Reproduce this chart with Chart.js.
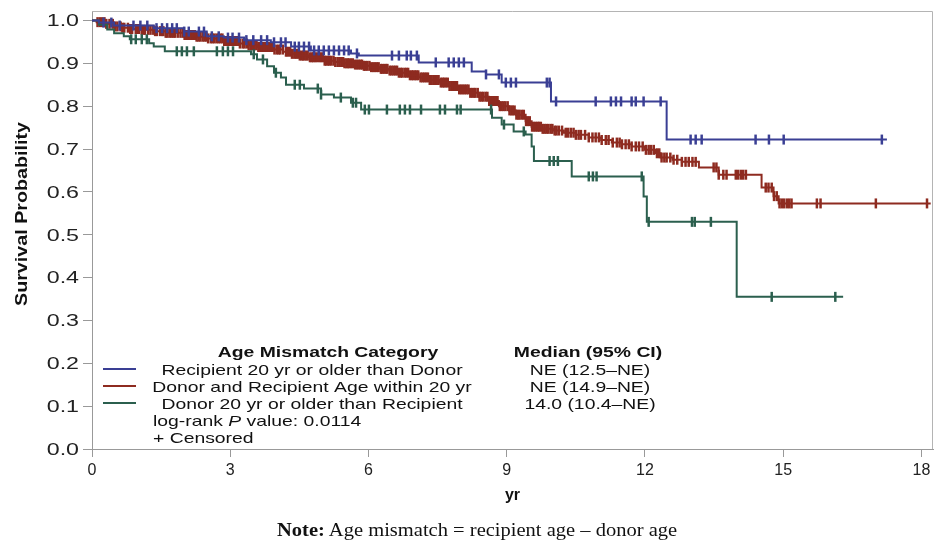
<!DOCTYPE html>
<html>
<head>
<meta charset="utf-8">
<script src="https://cdn.jsdelivr.net/npm/chart.js@4.4.0/dist/chart.umd.min.js"></script>
<style>
html,body{margin:0;padding:0;background:#fff;}
#wrap{position:relative;width:935px;height:544px;overflow:hidden;}
#c{position:absolute;left:0;top:0;}
#note{position:absolute;left:277px;top:519px;white-space:nowrap;font-family:"Liberation Serif","Times New Roman",serif;font-size:18px;color:#111;line-height:22px;transform:scaleX(1.14);transform-origin:0 0;}
</style>
</head>
<body>
<div id="wrap">
<canvas id="c" width="935" height="544"></canvas>
<div id="note"><b>Note:</b> Age mismatch = recipient age – donor age</div>
</div>
<script>
// ---------- data ----------
const xTicks = [0, 3, 6, 9, 12, 15, 18];
const yTicks = [0.0, 0.1, 0.2, 0.3, 0.4, 0.5, 0.6, 0.7, 0.8, 0.9, 1.0];
const xTitle = "yr";
const yTitle = "Survival Probability";
const legendHeader = "Age Mismatch Category";
const medianHeader = "Median (95% CI)";
const seriesNames = [
  "Recipient 20 yr or older than Donor",
  "Donor and Recipient Age within 20 yr",
  "Donor 20 yr or older than Recipient"
];
const medians = ["NE (12.5\u2013NE)", "NE (14.9\u2013NE)", "14.0 (10.4\u2013NE)"];
const pValueText = "0.0114";

// Recipient 20 yr or older than Donor (blue)
const blueTimes = [0, 0.15, 0.48, 1.34, 2.00, 2.49, 2.86, 3.30, 3.88, 4.32, 4.75, 5.62, 5.79, 7.09, 8.24, 8.55, 8.89, 9.96, 12.47, 17.25];
const blueSurv  = [1.0, 0.995, 0.988, 0.982, 0.974, 0.963, 0.960, 0.954, 0.949, 0.939, 0.930, 0.923, 0.918, 0.902, 0.881, 0.874, 0.855, 0.811, 0.722, 0.722];
const blueCensor = [0.25, 0.42, 0.60, 0.90, 1.05, 1.20, 1.40, 1.52, 1.63, 1.74, 1.84, 2.00, 2.10, 2.32, 2.43, 2.60, 2.75, 2.95, 3.05, 3.19, 3.35, 3.50, 3.67, 3.80, 3.95, 4.10, 4.20, 4.40, 4.49, 4.60, 4.71, 4.82, 4.92, 5.03, 5.14, 5.25, 5.36, 5.47, 5.57, 5.75, 6.51, 6.66, 6.83, 6.92, 7.05, 7.46, 7.74, 7.85, 7.96, 8.07, 8.55, 8.83, 8.98, 9.09, 9.20, 9.87, 9.93, 10.07, 10.93, 11.26, 11.37, 11.48, 11.71, 11.80, 11.97, 12.34, 12.99, 13.10, 13.23, 14.40, 14.69, 15.01, 17.14];

// Donor and Recipient Age within 20 yr (red)
const redTimes = [0, 0.10, 0.30, 0.48, 0.65, 0.80, 1.05, 1.34, 1.60, 2.00, 2.25, 2.49, 2.86, 3.19, 3.40, 3.58, 3.95, 4.15, 4.32, 4.50, 4.71, 5.03, 5.25, 5.47, 5.70, 5.90, 6.05, 6.23, 6.45, 6.66, 6.88, 7.09, 7.30, 7.53, 7.75, 7.96, 8.18, 8.39, 8.61, 8.83, 9.05, 9.20, 9.41, 9.54, 9.75, 10.00, 10.24, 10.50, 10.78, 11.05, 11.28, 11.50, 11.71, 12.00, 12.23, 12.34, 12.60, 12.80, 13.17, 13.60, 14.53, 14.79, 14.90, 18.20];
const redSurv  = [1.0, 0.996, 0.992, 0.986, 0.983, 0.980, 0.978, 0.975, 0.971, 0.966, 0.962, 0.958, 0.952, 0.946, 0.942, 0.938, 0.932, 0.927, 0.922, 0.918, 0.914, 0.906, 0.903, 0.900, 0.897, 0.894, 0.891, 0.887, 0.883, 0.878, 0.872, 0.867, 0.861, 0.855, 0.847, 0.839, 0.831, 0.822, 0.812, 0.800, 0.790, 0.780, 0.765, 0.752, 0.747, 0.743, 0.738, 0.733, 0.727, 0.721, 0.715, 0.711, 0.706, 0.698, 0.690, 0.680, 0.675, 0.670, 0.657, 0.640, 0.610, 0.590, 0.573, 0.573];
const redCensor = [0.12, 0.17, 0.22, 0.27, 0.31, 0.38, 0.45, 0.50, 0.55, 0.62, 0.66, 0.70, 0.78, 0.83, 0.87, 0.95, 0.99, 1.02, 1.08, 1.12, 1.15, 1.22, 1.27, 1.33, 1.37, 1.41, 1.48, 1.52, 1.55, 1.60, 1.64, 1.69, 1.73, 1.77, 1.80, 1.86, 1.92, 1.97, 2.01, 2.04, 2.08, 2.12, 2.16, 2.19, 2.23, 2.27, 2.31, 2.35, 2.40, 2.44, 2.48, 2.52, 2.58, 2.62, 2.66, 2.71, 2.75, 2.79, 2.83, 2.87, 2.91, 2.95, 2.98, 3.02, 3.06, 3.10, 3.14, 3.18, 3.21, 3.27, 3.31, 3.36, 3.40, 3.45, 3.49, 3.53, 3.57, 3.61, 3.65, 3.69, 3.73, 3.76, 3.80, 3.84, 3.88, 3.92, 3.96, 4.01, 4.05, 4.08, 4.14, 4.21, 4.25, 4.30, 4.34, 4.39, 4.43, 4.47, 4.51, 4.55, 4.58, 4.61, 4.65, 4.68, 4.73, 4.77, 4.80, 4.84, 4.88, 4.93, 4.97, 5.01, 5.05, 5.08, 5.12, 5.15, 5.19, 5.24, 5.28, 5.33, 5.37, 5.41, 5.45, 5.48, 5.52, 5.55, 5.58, 5.62, 5.66, 5.71, 5.75, 5.79, 5.83, 5.86, 5.90, 5.93, 5.97, 6.02, 6.06, 6.10, 6.14, 6.18, 6.22, 6.27, 6.30, 6.34, 6.38, 6.41, 6.46, 6.50, 6.54, 6.58, 6.62, 6.66, 6.70, 6.73, 6.78, 6.82, 6.86, 6.90, 6.94, 6.97, 7.01, 7.04, 7.08, 7.13, 7.17, 7.21, 7.25, 7.29, 7.33, 7.37, 7.41, 7.44, 7.48, 7.52, 7.57, 7.61, 7.64, 7.68, 7.72, 7.76, 7.80, 7.83, 7.88, 7.92, 7.97, 8.01, 8.05, 8.09, 8.13, 8.17, 8.21, 8.25, 8.29, 8.32, 8.37, 8.41, 8.45, 8.49, 8.54, 8.58, 8.62, 8.66, 8.70, 8.73, 8.77, 8.80, 8.85, 8.89, 8.93, 8.97, 9.02, 9.06, 9.10, 9.13, 9.17, 9.21, 9.25, 9.28, 9.33, 9.37, 9.42, 9.46, 9.50, 9.55, 9.59, 9.63, 9.67, 9.70, 9.74, 9.78, 9.82, 9.86, 9.90, 9.95, 9.99, 10.04, 10.08, 10.13, 10.20, 10.28, 10.33, 10.39, 10.45, 10.50, 10.56, 10.61, 10.70, 10.78, 10.86, 10.93, 11.00, 11.06, 11.15, 11.21, 11.30, 11.39, 11.45, 11.50, 11.58, 11.65, 11.71, 11.80, 11.87, 11.95, 12.02, 12.08, 12.13, 12.19, 12.26, 12.31, 12.36, 12.42, 12.47, 12.55, 12.62, 12.70, 12.80, 12.88, 12.95, 13.03, 13.10, 13.49, 13.55, 13.60, 13.70, 13.77, 13.97, 14.02, 14.08, 14.13, 14.19, 14.62, 14.68, 14.75, 14.80, 14.86, 14.92, 14.97, 15.02, 15.08, 15.13, 15.18, 15.73, 15.81, 17.01, 18.12];

// Donor 20 yr or older than Recipient (green)
const greenTimes = [0, 0.15, 0.33, 0.48, 0.69, 0.82, 1.24, 1.34, 1.58, 3.45, 3.58, 3.80, 3.95, 4.10, 4.21, 4.60, 4.97, 5.25, 5.62, 5.84, 8.68, 8.89, 9.15, 9.41, 9.54, 9.59, 10.41, 11.97, 12.04, 13.99, 16.30];
const greenSurv  = [1.0, 0.990, 0.979, 0.970, 0.963, 0.956, 0.947, 0.939, 0.928, 0.921, 0.909, 0.893, 0.878, 0.867, 0.850, 0.841, 0.827, 0.820, 0.808, 0.792, 0.773, 0.757, 0.741, 0.734, 0.706, 0.672, 0.636, 0.589, 0.530, 0.355, 0.355];
const greenCensor = [0.85, 0.95, 1.08, 1.19, 1.84, 1.95, 2.06, 2.21, 2.71, 2.84, 2.95, 3.06, 3.51, 3.71, 3.99, 4.40, 4.51, 4.90, 4.97, 5.40, 5.66, 5.73, 5.92, 6.01, 6.40, 6.68, 6.79, 6.90, 7.14, 7.55, 7.66, 7.92, 8.00, 8.66, 8.94, 9.37, 9.93, 10.02, 10.11, 10.78, 10.87, 10.95, 11.93, 12.08, 13.02, 13.08, 13.43, 14.75, 16.13];

// ---------- styles ----------
const colors = ["#3a3f94", "#8e2b20", "#2b5f4e"];
const FONT = '"Liberation Sans", Arial, Helvetica, sans-serif';
const TEXT_STRETCH = 1.29;

function survAt(times, surv, t) {
  let v = surv[0];
  for (let i = 0; i < times.length; i++) { if (times[i] <= t + 1e-9) v = surv[i]; }
  return v;
}
function curve(times, surv) { return times.map((t, i) => ({x: t, y: surv[i]})); }
function marks(times, surv, cens) { return cens.map(t => ({x: t, y: survAt(times, surv, t)})); }

const groups = [
  {times: blueTimes, surv: blueSurv, cens: blueCensor, order: 0},
  {times: redTimes, surv: redSurv, cens: redCensor, order: 2},
  {times: greenTimes, surv: greenSurv, cens: greenCensor, order: 1}
];
const datasets = [];
groups.forEach((g, i) => {
  datasets.push({
    label: seriesNames[i], data: curve(g.times, g.surv), borderColor: colors[i],
    borderWidth: 2, stepped: true, pointRadius: 0, fill: false, order: g.order
  });
  datasets.push({
    label: seriesNames[i] + " censored", data: marks(g.times, g.surv, g.cens), showLine: false,
    pointStyle: 'line', rotation: 90, pointRadius: 5, pointBorderWidth: 2.5,
    borderColor: colors[i], backgroundColor: colors[i], order: g.order
  });
});

function stretchedText(ctx, text, x, y, align, sx) {
  ctx.save();
  ctx.translate(x, y);
  ctx.scale(sx, 1);
  ctx.textAlign = align;
  ctx.fillText(text, 0, 0);
  ctx.restore();
}

const framePlugin = {
  id: 'frame',
  afterLayout(chart) {
    const ys = chart.scales.y, xs = chart.scales.x;
    if (!ys._stretchPatched) {
      const origY = ys.drawLabels;
      ys.drawLabels = function (area) {
        const ctx = chart.ctx;
        const ax = ys.right - 9 - 4;
        ctx.save();
        ctx.translate(ax, 1.5); ctx.scale(1.45, 1); ctx.translate(-ax, 0);
        origY.call(ys, area);
        ctx.restore();
      };
      ys._stretchPatched = true;
    }
    if (!xs._stretchPatched) {
      const origX = xs.draw;
      xs.draw = function (area) {
        const ctx = chart.ctx;
        ctx.save();
        ctx.letterSpacing = '1.5px';
        origX.call(xs, area);
        ctx.restore();
      };
      xs._stretchPatched = true;
    }
  },
  beforeDatasetsDraw(chart) {
    const {ctx, chartArea: a} = chart;
    ctx.save();
    ctx.strokeStyle = '#b4b4b4';
    ctx.lineWidth = 1;
    ctx.beginPath();
    ctx.moveTo(a.left, a.top + 0.5); ctx.lineTo(a.right - 0.5, a.top + 0.5);
    ctx.lineTo(a.right - 0.5, a.bottom);
    ctx.stroke();
    ctx.restore();
  },
  afterDraw(chart) {
    const ctx = chart.ctx;
    // y-axis title
    ctx.save();
    ctx.translate(22, 214);
    ctx.rotate(-Math.PI / 2);
    ctx.fillStyle = '#111';
    ctx.font = 'bold 17px "Liberation Sans Narrow", ' + FONT;
    ctx.textBaseline = 'middle';
    const w = ctx.measureText(yTitle).width;
    stretchedText(ctx, yTitle, 0, 0, 'center', 184 / w);
    ctx.restore();

    // legend
    ctx.save();
    ctx.fillStyle = '#111';
    ctx.textBaseline = 'middle';
    ctx.font = 'bold 15px ' + FONT;
    stretchedText(ctx, legendHeader, 328, 353, 'center', TEXT_STRETCH);
    stretchedText(ctx, medianHeader, 588, 353, 'center', TEXT_STRETCH);
    ctx.font = '15px ' + FONT;
    seriesNames.forEach((n, i) => {
      const y = 370.5 + 17 * i;
      ctx.strokeStyle = colors[i]; ctx.lineWidth = 2;
      ctx.beginPath(); ctx.moveTo(103, y - 1.5); ctx.lineTo(136, y - 1.5); ctx.stroke();
      stretchedText(ctx, n, 312, y, 'center', TEXT_STRETCH);
      stretchedText(ctx, medians[i], 590, y, 'center', TEXT_STRETCH);
    });
    let x = 153; const yP = 421.5;
    const p1 = 'log-rank ';
    stretchedText(ctx, p1, x, yP, 'left', TEXT_STRETCH); x += ctx.measureText(p1).width * TEXT_STRETCH;
    ctx.font = 'italic 15px ' + FONT;
    stretchedText(ctx, 'P', x, yP, 'left', TEXT_STRETCH); x += ctx.measureText('P').width * TEXT_STRETCH;
    ctx.font = '15px ' + FONT;
    stretchedText(ctx, ' value: ' + pValueText, x, yP, 'left', TEXT_STRETCH);
    stretchedText(ctx, '+ Censored', 153, 438.5, 'left', TEXT_STRETCH);
    ctx.restore();
  }
};

new Chart(document.getElementById('c'), {
  type: 'line',
  data: {datasets},
  options: {
    responsive: false,
    animation: false,
    events: [],
    layout: {autoPadding: false, padding: {left: 0, right: 2, top: 11, bottom: 0}},
    plugins: {legend: {display: false}, tooltip: {enabled: false}},
    scales: {
      x: {
        type: 'linear', min: 0, max: 18.25,
        afterBuildTicks: ax => { ax.ticks = xTicks.map(v => ({value: v})); },
        afterFit: ax => { ax.height = 95; ax.paddingLeft = 0; ax.paddingRight = 0; },
        grid: {drawOnChartArea: false, drawTicks: true, tickLength: 8, tickColor: '#999', tickWidth: 1},
        border: {display: true, color: '#999', width: 1},
        ticks: {font: {family: FONT, size: 16}, color: '#222', padding: 4, maxRotation: 0, autoSkip: false},
        title: {display: true, text: xTitle, font: {family: FONT, size: 16, weight: 'bold'}, color: '#111', padding: {top: 0, bottom: 39}}
      },
      y: {
        type: 'linear', min: 0, max: 1.022,
        afterBuildTicks: ax => { ax.ticks = yTicks.map(v => ({value: v})); },
        afterFit: ax => { ax.width = 92; ax.paddingTop = 0; ax.paddingBottom = 0; },
        grid: {drawOnChartArea: false, drawTicks: true, tickLength: 9, tickColor: '#999', tickWidth: 1},
        border: {display: true, color: '#999', width: 1},
        ticks: {font: {family: FONT, size: 16}, color: '#222', padding: 4, callback: v => Number(v).toFixed(1)}
      }
    }
  },
  plugins: [framePlugin]
});
</script>
</body>
</html>
